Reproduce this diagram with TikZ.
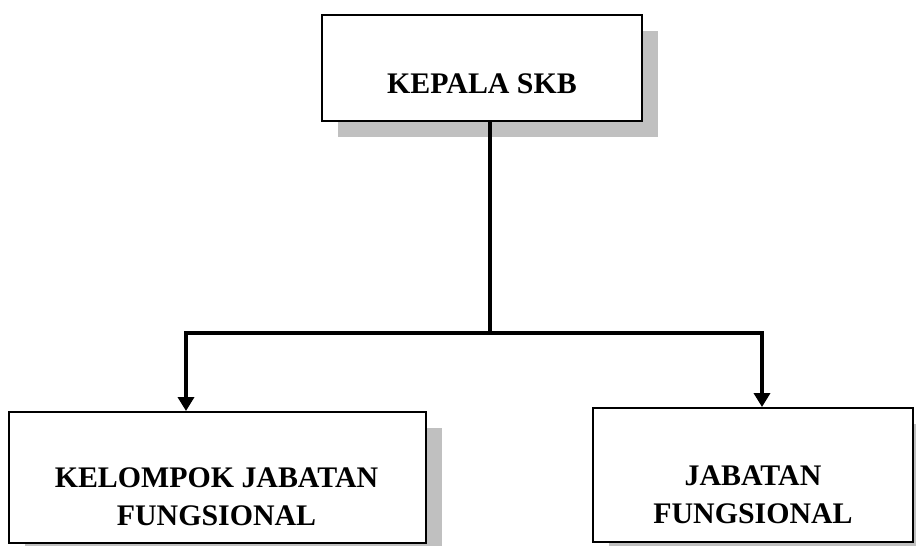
\documentclass[tikz,border=0pt]{standalone}
\usepackage{fontspec}
\newfontfamily\boxfont{Liberation Serif}
\usepackage{tikz}
\usetikzlibrary{arrows.meta}
\usetikzlibrary{shadows}
\usetikzlibrary{calc}
\usetikzlibrary{positioning}
\usepackage{xcolor}
\definecolor{shadowgrey}{HTML}{C0C0C0}
\tikzset{every text node part/.style={align=center, font={\boxfont\bfseries\fontsize{17}{21.6}\selectfont}}}
\tikzstyle{block} = [draw=black, fill=white, inner sep=0pt, line width=1.1pt, drop shadow={shadow xshift=0.31cm, shadow yshift=-0.32cm, fill=shadowgrey, opacity=1}]
\tikzstyle{txt} = [inner sep=0pt]
\tikzstyle{ln} = [draw, line width=2.3pt, arrows={-Triangle[width=0.32cm, length=0.28cm]}]
\begin{document}
\begin{tikzpicture}[]
  \useasboundingbox (0,0) rectangle (18.32,-10.92);
  % boxes
  \node[block, minimum width=6.40cm, minimum height=2.12cm] (kepala) at (9.64,-1.36) {};
  \node[block, minimum width=8.34cm, minimum height=2.62cm] (kelompok) at (4.35,-9.55) {};
  \node[block, minimum width=6.40cm, minimum height=2.68cm] (jabatan) at (15.06,-9.50) {};
  % labels
  \node[txt] (kepala-txt) at (9.64,-1.67) {KEPALA SKB};
  \node[txt] (kelompok-txt) at (4.33,-9.94) {KELOMPOK JABATAN\\FUNGSIONAL};
  \node[txt] (jabatan-txt) at (15.06,-9.90) {JABATAN\\FUNGSIONAL};
  % lines
  \coordinate (split) at (9.80,-6.66);
  \draw[line width=2.3pt] ([xshift=0.16cm]kepala.south) -- (split);
  \draw[ln] (split) -| ([xshift=-0.63cm]kelompok.north);
  \draw[ln] (split) -| ([xshift=0.18cm]jabatan.north);
\end{tikzpicture}
\end{document}
